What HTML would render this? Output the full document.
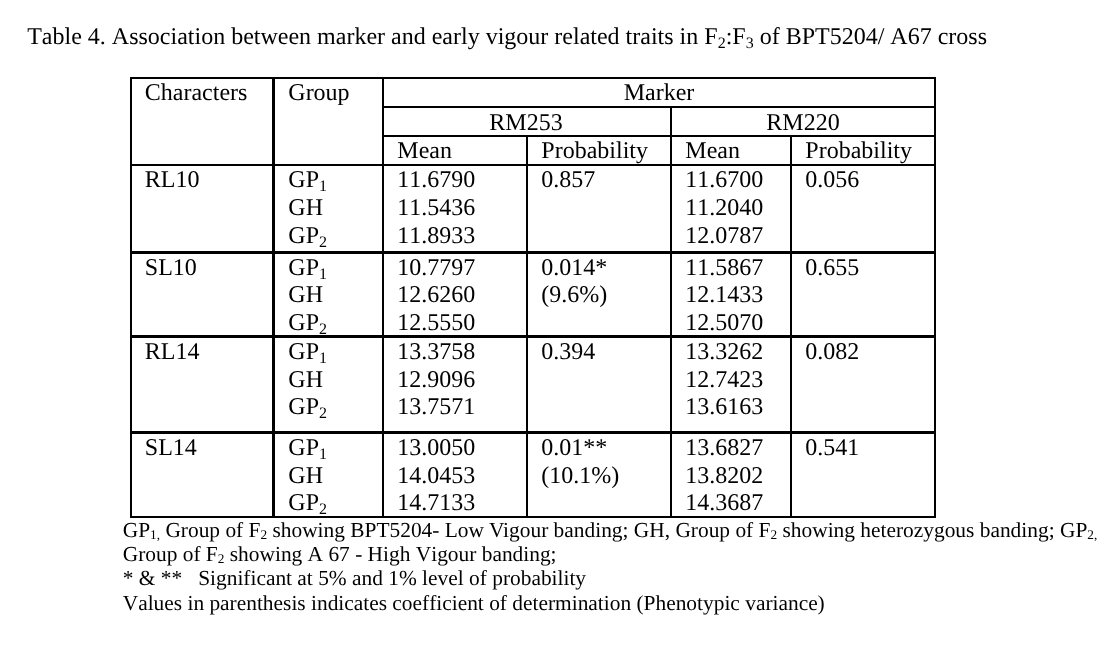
<!DOCTYPE html>
<html><head><meta charset="utf-8"><title>Table 4</title>
<style>
html,body{margin:0;padding:0;background:#fff;}
body{width:1107px;height:647px;position:relative;overflow:hidden;font-family:"Liberation Serif",serif;color:#000;}
#w{position:absolute;left:0;top:0;width:1107px;height:647px;will-change:transform;}
.t{position:absolute;white-space:nowrap;line-height:normal;text-rendering:geometricPrecision;font-kerning:none;}
.r{position:absolute;background:#000;}
.s{font-size:16px;position:relative;top:4px;}
.ts{font-size:16px;position:relative;top:4px;}
.fs{font-size:13.3px;position:relative;top:2px;}
</style></head><body><div id="w">
<div class="t" style="left:27.2px;top:24px;font-size:24px;">Table 4. Association between marker and early vigour related traits in F<span class="ts">2</span>:F<span class="ts">3</span> of BPT5204/ A67 cross</div>
<div class="r" style="left:130px;top:77px;width:806px;height:2px"></div>
<div class="r" style="left:382px;top:106px;width:554px;height:2px"></div>
<div class="r" style="left:382px;top:135px;width:554px;height:2px"></div>
<div class="r" style="left:130px;top:164px;width:806px;height:2px"></div>
<div class="r" style="left:130px;top:251px;width:806px;height:3px"></div>
<div class="r" style="left:130px;top:335px;width:806px;height:3px"></div>
<div class="r" style="left:130px;top:431px;width:806px;height:3px"></div>
<div class="r" style="left:130px;top:516px;width:806px;height:2px"></div>
<div class="r" style="left:130px;top:77px;width:2px;height:441px"></div>
<div class="r" style="left:272px;top:77px;width:3px;height:441px"></div>
<div class="r" style="left:382px;top:77px;width:2px;height:441px"></div>
<div class="r" style="left:526px;top:135px;width:2px;height:383px"></div>
<div class="r" style="left:670px;top:106px;width:2px;height:412px"></div>
<div class="r" style="left:790px;top:135px;width:2px;height:383px"></div>
<div class="r" style="left:934px;top:77px;width:2px;height:441px"></div>
<div class="t" style="left:144.8px;top:80px;font-size:24px;">Characters</div>
<div class="t" style="left:288.3px;top:80px;font-size:24px;">Group</div>
<div class="t" style="left:459.0px;width:400px;text-align:center;top:80px;font-size:24px">Marker</div>
<div class="t" style="left:326.0px;width:400px;text-align:center;top:110px;font-size:24px">RM253</div>
<div class="t" style="left:603.0px;width:400px;text-align:center;top:110px;font-size:24px">RM220</div>
<div class="t" style="left:397.3px;top:138px;font-size:24px;">Mean</div>
<div class="t" style="left:541.3px;top:138px;font-size:24px;">Probability</div>
<div class="t" style="left:685.3px;top:138px;font-size:24px;">Mean</div>
<div class="t" style="left:805.3px;top:138px;font-size:24px;">Probability</div>
<div class="t" style="left:144.8px;top:167px;font-size:24px;">RL10</div>
<div class="t" style="left:288.3px;top:167px;font-size:24px;">GP<span class="s">1</span></div>
<div class="t" style="left:288.3px;top:195px;font-size:24px;">GH</div>
<div class="t" style="left:288.3px;top:223px;font-size:24px;">GP<span class="s">2</span></div>
<div class="t" style="left:397.3px;top:167px;font-size:24px;">11.6790</div>
<div class="t" style="left:397.3px;top:195px;font-size:24px;">11.5436</div>
<div class="t" style="left:397.3px;top:223px;font-size:24px;">11.8933</div>
<div class="t" style="left:541.3px;top:167px;font-size:24px;">0.857</div>
<div class="t" style="left:685.3px;top:167px;font-size:24px;">11.6700</div>
<div class="t" style="left:685.3px;top:195px;font-size:24px;">11.2040</div>
<div class="t" style="left:685.3px;top:223px;font-size:24px;">12.0787</div>
<div class="t" style="left:805.3px;top:167px;font-size:24px;">0.056</div>
<div class="t" style="left:144.8px;top:255px;font-size:24px;">SL10</div>
<div class="t" style="left:288.3px;top:255px;font-size:24px;">GP<span class="s">1</span></div>
<div class="t" style="left:288.3px;top:282px;font-size:24px;">GH</div>
<div class="t" style="left:288.3px;top:310px;font-size:24px;">GP<span class="s">2</span></div>
<div class="t" style="left:397.3px;top:255px;font-size:24px;">10.7797</div>
<div class="t" style="left:397.3px;top:282px;font-size:24px;">12.6260</div>
<div class="t" style="left:397.3px;top:310px;font-size:24px;">12.5550</div>
<div class="t" style="left:541.3px;top:255px;font-size:24px;">0.014*</div>
<div class="t" style="left:541.3px;top:282px;font-size:24px;">(9.6%)</div>
<div class="t" style="left:685.3px;top:255px;font-size:24px;">11.5867</div>
<div class="t" style="left:685.3px;top:282px;font-size:24px;">12.1433</div>
<div class="t" style="left:685.3px;top:310px;font-size:24px;">12.5070</div>
<div class="t" style="left:805.3px;top:255px;font-size:24px;">0.655</div>
<div class="t" style="left:144.8px;top:339px;font-size:24px;">RL14</div>
<div class="t" style="left:288.3px;top:339px;font-size:24px;">GP<span class="s">1</span></div>
<div class="t" style="left:288.3px;top:367px;font-size:24px;">GH</div>
<div class="t" style="left:288.3px;top:394px;font-size:24px;">GP<span class="s">2</span></div>
<div class="t" style="left:397.3px;top:339px;font-size:24px;">13.3758</div>
<div class="t" style="left:397.3px;top:367px;font-size:24px;">12.9096</div>
<div class="t" style="left:397.3px;top:394px;font-size:24px;">13.7571</div>
<div class="t" style="left:541.3px;top:339px;font-size:24px;">0.394</div>
<div class="t" style="left:685.3px;top:339px;font-size:24px;">13.3262</div>
<div class="t" style="left:685.3px;top:367px;font-size:24px;">12.7423</div>
<div class="t" style="left:685.3px;top:394px;font-size:24px;">13.6163</div>
<div class="t" style="left:805.3px;top:339px;font-size:24px;">0.082</div>
<div class="t" style="left:144.8px;top:435px;font-size:24px;">SL14</div>
<div class="t" style="left:288.3px;top:435px;font-size:24px;">GP<span class="s">1</span></div>
<div class="t" style="left:288.3px;top:463px;font-size:24px;">GH</div>
<div class="t" style="left:288.3px;top:490px;font-size:24px;">GP<span class="s">2</span></div>
<div class="t" style="left:397.3px;top:435px;font-size:24px;">13.0050</div>
<div class="t" style="left:397.3px;top:463px;font-size:24px;">14.0453</div>
<div class="t" style="left:397.3px;top:490px;font-size:24px;">14.7133</div>
<div class="t" style="left:541.3px;top:435px;font-size:24px;">0.01**</div>
<div class="t" style="left:541.3px;top:463px;font-size:24px;">(10.1%)</div>
<div class="t" style="left:685.3px;top:435px;font-size:24px;">13.6827</div>
<div class="t" style="left:685.3px;top:463px;font-size:24px;">13.8202</div>
<div class="t" style="left:685.3px;top:490px;font-size:24px;">14.3687</div>
<div class="t" style="left:805.3px;top:435px;font-size:24px;">0.541</div>
<div class="t" style="left:122.7px;top:518px;font-size:21.4px;font-kerning:normal">GP<span class="fs">1,</span> Group of F<span class="fs">2</span> showing BPT5204- Low Vigour banding; GH, Group of F<span class="fs">2</span> showing heterozygous banding; GP<span class="fs">2,</span></div>
<div class="t" style="left:122.7px;top:542px;font-size:21.4px;">Group of F<span class="fs">2</span> showing A 67 - High Vigour banding;</div>
<div class="t" style="left:122.7px;top:566px;font-size:21.4px;">* &amp; **&nbsp;&nbsp; Significant at 5% and 1% level of probability</div>
<div class="t" style="left:122.7px;top:591px;font-size:21.4px;">Values in parenthesis indicates coefficient of determination (Phenotypic variance)</div>
</div></body></html>
